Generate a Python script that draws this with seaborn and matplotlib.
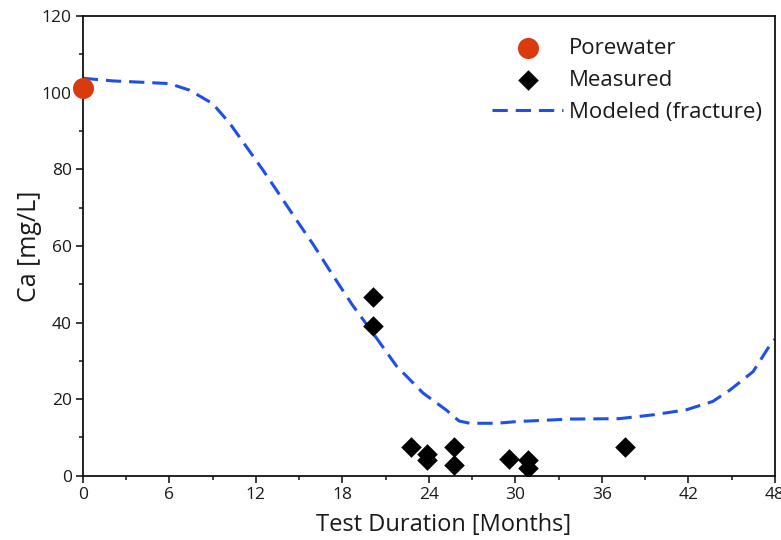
import matplotlib
matplotlib.use("Agg")
import matplotlib.pyplot as plt
from matplotlib.ticker import MultipleLocator
import seaborn as sns
import pandas as pd

# Porewater reference concentration
pore_month = [0.0]
pore_ca = [101.2]

# Measured Ca concentrations
meas_month = [20.1, 20.1, 22.75, 23.85, 23.85, 25.75, 25.75, 29.6, 30.9, 30.9, 37.6]
meas_ca = [46.8, 39.0, 7.4, 5.7, 4.2, 7.5, 2.9, 4.4, 4.2, 2.0, 7.6]

# Modeled Ca concentration (fracture)
model_month = [0.0, 2.1, 4.4, 6.0, 7.4, 9.0, 10.2, 11.35, 12.5, 13.7, 14.8, 16.0,
               17.3, 18.7, 20.1, 21.75, 23.6, 25.2, 26.1, 26.85, 28.7, 30.3, 31.0,
               33.8, 37.2, 39.55, 41.85, 43.7, 44.9, 46.5, 47.75, 48.0]
model_ca = [103.8, 103.1, 102.7, 102.4, 100.7, 97.2, 92.0, 85.9, 79.8, 73.1, 66.9, 60.3,
            52.6, 44.6, 37.4, 28.7, 21.6, 17.2, 14.3, 13.7, 13.7, 14.2, 14.3,
            14.8, 14.9, 15.9, 17.2, 19.4, 22.4, 27.2, 34.6, 35.6]

x_ticks = [0, 6, 12, 18, 24, 30, 36, 42, 48]
y_ticks = [0, 20, 40, 60, 80, 100, 120]

sns.set_style("ticks")
plt.rcParams["font.family"] = ["Open Sans", "DejaVu Sans"]

fig = plt.figure(figsize=(7.81, 5.40), dpi=100)
ax = fig.add_axes([0.106, 0.119, 0.886, 0.851])

model_df = pd.DataFrame({"month": model_month, "ca": model_ca})
meas_df = pd.DataFrame({"month": meas_month, "ca": meas_ca})
pore_df = pd.DataFrame({"month": pore_month, "ca": pore_ca})

sns.lineplot(data=model_df, x="month", y="ca", ax=ax, color="#1f50e6", lw=2.2,
             label="Modeled (fracture)", sort=False)
ax.lines[-1].set_dashes((5.0, 2.6))

sns.scatterplot(data=meas_df, x="month", y="ca", ax=ax, marker="D", s=110,
                color="black", edgecolor="black", linewidth=0, label="Measured",
                zorder=4)
sns.scatterplot(data=pore_df, x="month", y="ca", ax=ax, marker="o", s=230,
                color="#d93a0e", edgecolor="#d93a0e", linewidth=0, label="Porewater",
                zorder=5, clip_on=False)

ax.set_xlim(0, 48)
ax.set_ylim(0, 120)
ax.set_xticks(x_ticks)
ax.set_yticks(y_ticks)
ax.xaxis.set_minor_locator(MultipleLocator(3))
ax.yaxis.set_minor_locator(MultipleLocator(10))
ax.tick_params(axis="both", which="major", direction="out", length=5, width=1.2,
               labelsize=12.5, colors="#1a1a1a", pad=3)
ax.tick_params(axis="both", which="minor", direction="out", length=3, width=1.2)
for sp in ax.spines.values():
    sp.set_linewidth(1.3)
    sp.set_color("#111111")

ax.set_xlabel("Test Duration [Months]", fontsize=17, color="#1a1a1a", labelpad=5)
ax.xaxis.set_label_coords(0.522, -0.08)
ax.set_ylabel("Ca [mg/L]", fontsize=18, color="#1a1a1a", labelpad=0)

handles, labels = ax.get_legend_handles_labels()
order = [labels.index("Porewater"), labels.index("Measured"), labels.index("Modeled (fracture)")]
leg = ax.legend([handles[i] for i in order], [labels[i] for i in order],
                loc="upper right", bbox_to_anchor=(0.994, 0.972), frameon=False,
                fontsize=16, handlelength=3.2, handletextpad=0.25, labelspacing=0.5,
                borderaxespad=0)
for t in leg.get_texts():
    t.set_color("#1a1a1a")

fig.savefig("out.png", dpi=100)
